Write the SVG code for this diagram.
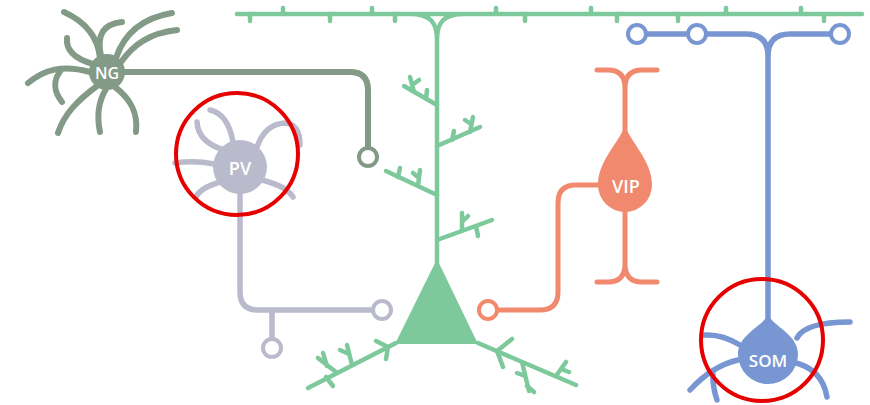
<svg xmlns="http://www.w3.org/2000/svg" width="870" height="405" viewBox="0 0 870 405">
  <style>
    .line { fill: none; stroke-linecap: round; stroke-linejoin: round; }
    .pyr { stroke: #7dc99b; stroke-width: 4.5; }
    .ng { stroke: #839b86; stroke-width: 6; }
    .pv { stroke: #b9bacb; stroke-width: 5.5; }
    .vip { stroke: #f0896d; stroke-width: 5; }
    .som { stroke: #7896d2; stroke-width: 5.5; }
    .bouton { fill: #ffffff; stroke-width: 4; }
    .label { fill: #ffffff; font-family: "Open Sans", "Noto Sans", sans-serif; font-weight: 600; text-anchor: middle; dominant-baseline: central; }
    .mark { fill: none; stroke: #e60000; stroke-width: 4; }
  </style>
  <rect width="870" height="405" fill="#ffffff"/>

  <!-- pyramidal cell: apical tuft, trunk, soma and basal dendrites -->
  <g id="pyramidal">
    <path class="line pyr" d="M237,14 H862 M410,14 C430,14 437,22 437,40 M464,14 C444,14 437,22 437,40 V262"/>
    <!-- spines on the tuft -->
    <path class="line pyr" d="M283,14 V8 M372,14 V8 M496,14 V8 M591,14 V8 M726,14 V8 M801,14 V8 M250,14 V21 M330,14 V21 M395,14 V21 M525,14 V21 M617,14 V21 M678,14 V21 M824,14 V21"/>
    <!-- oblique branches of the trunk -->
    <path class="line pyr" d="M437,105 L404,86 M414,92 L410,77 M412,85 L419,80 M426,99 L427,90"/>
    <path class="line pyr" d="M437,146 L480,127 M470,132 L473,117 M471,124 L465,120 M452,140 L454,131"/>
    <path class="line pyr" d="M437,195 L386,171 M418,186 L420,170 M419,178 L413,173 M398,177 L400,168"/>
    <path class="line pyr" d="M437,240 L492,220 M462,231 L462,213 M462,222 L468,216 M476,226 L478,236"/>
    <!-- soma -->
    <path d="M437,259 L478,344 L395,344 Z" fill="#7dc99b"/>
    <!-- basal dendrites -->
    <path class="line pyr" d="M396,343 L308,388 M388,347 L376,341 M388,347 L386,359 M352,365 L347,345 M349,354 L340,350 M336,372 L318,358 M327,366 L323,353 M326,377 L333,386"/>
    <path class="line pyr" d="M478,343 L576,385 M497,351 L512,339 M497,351 L503,367 M522,362 L529,391 M525,376 L517,373 M527,386 L534,392 M556,376 L566,362 M561,369 L569,372"/>
  </g>

  <!-- neurogliaform cell -->
  <g id="ng">
    <path class="line ng" d="M100,58 C98,38 86,22 64,12 M101,56 C96,34 104,24 122,22 M116,58 C124,34 142,18 172,13 M121,62 C134,44 150,33 177,30 M93,64 C72,58 66,48 67,38 M90,72 C62,64 44,70 28,83 M62,69 C52,80 54,92 62,102 M97,86 C78,100 64,114 58,133 M106,89 C97,104 97,118 100,132 M115,87 C132,100 138,114 136,132"/>
    <circle cx="107" cy="72" r="18" fill="#839b86"/>
    <text class="label" x="107" y="73" font-size="16">NG</text>
  </g>

  <!-- parvalbumin cell -->
  <g id="pv">
    <path class="line pv" d="M197,122 Q198,142 224,150 M210,110 Q228,114 233,142 M257,147 Q265,124 285,123 Q300,124 300,145 M214,164 Q195,160 175,163 M220,182 Q200,188 196,197 M262,180 Q286,186 293,197"/>
    <circle cx="240" cy="167" r="27" fill="#b9bacb"/>
    <text class="label" x="240" y="168" font-size="18">PV</text>
  </g>

  <!-- VIP cell -->
  <g id="vip">
    <path class="line vip" d="M597,70 H608 Q625,70 625,88 Q625,70 642,70 H657 M625,88 V135 M625,205 V264 Q625,282 608,282 H597 M625,264 Q625,282 642,282 H657"/>
    <path d="M625,125 C630,142 652,160 652,185 A27,27 0 0 1 598,185 C598,160 620,142 625,125 Z" fill="#f0896d"/>
    <text class="label" x="626" y="186" font-size="18">VIP</text>
  </g>

  <!-- somatostatin cell -->
  <g id="som">
    <path class="line som" d="M740,345 Q722,334 705,335 M738,360 Q712,366 690,390 M713,371 Q712,385 717,400 M797,338 Q805,322 850,322 M792,362 Q822,368 827,397"/>
    <path d="M768,314 C772,326 798,334 798,354 A30,30 0 0 1 738,354 C738,334 764,326 768,314 Z" fill="#7896d2"/>
    <text class="label" x="768" y="360" font-size="17">SOM</text>
  </g>

  <!-- axons and their boutons -->
  <g id="connectors">
    <path class="line ng" d="M124,72 H350 Q368,72 368,90 V148" stroke-width="5"/>
    <circle class="bouton ng" cx="368" cy="157" r="9"/>

    <path class="line pv" d="M240,193 V292 Q240,310 258,310 H373 M272,310 V339" stroke-width="4.5"/>
    <circle class="bouton pv" cx="382" cy="310" r="9"/>
    <circle class="bouton pv" cx="272" cy="348" r="9"/>

    <path class="line vip" d="M598,185 H576 Q558,185 558,203 V292 Q558,310 540,310 H497"/>
    <circle class="bouton vip" cx="488" cy="310" r="9"/>

    <path class="line som" d="M768,318 V56 Q768,34 746,34 H706 M768,56 Q768,34 790,34 H831 M646,34 H688"/>
    <circle class="bouton som" cx="637" cy="34" r="9"/>
    <circle class="bouton som" cx="697" cy="34" r="9"/>
    <circle class="bouton som" cx="840" cy="34" r="9"/>
  </g>

  <!-- highlight rings -->
  <g id="highlights">
    <circle class="mark" cx="237" cy="154" r="61"/>
    <circle class="mark" cx="762" cy="340" r="61"/>
  </g>
</svg>
